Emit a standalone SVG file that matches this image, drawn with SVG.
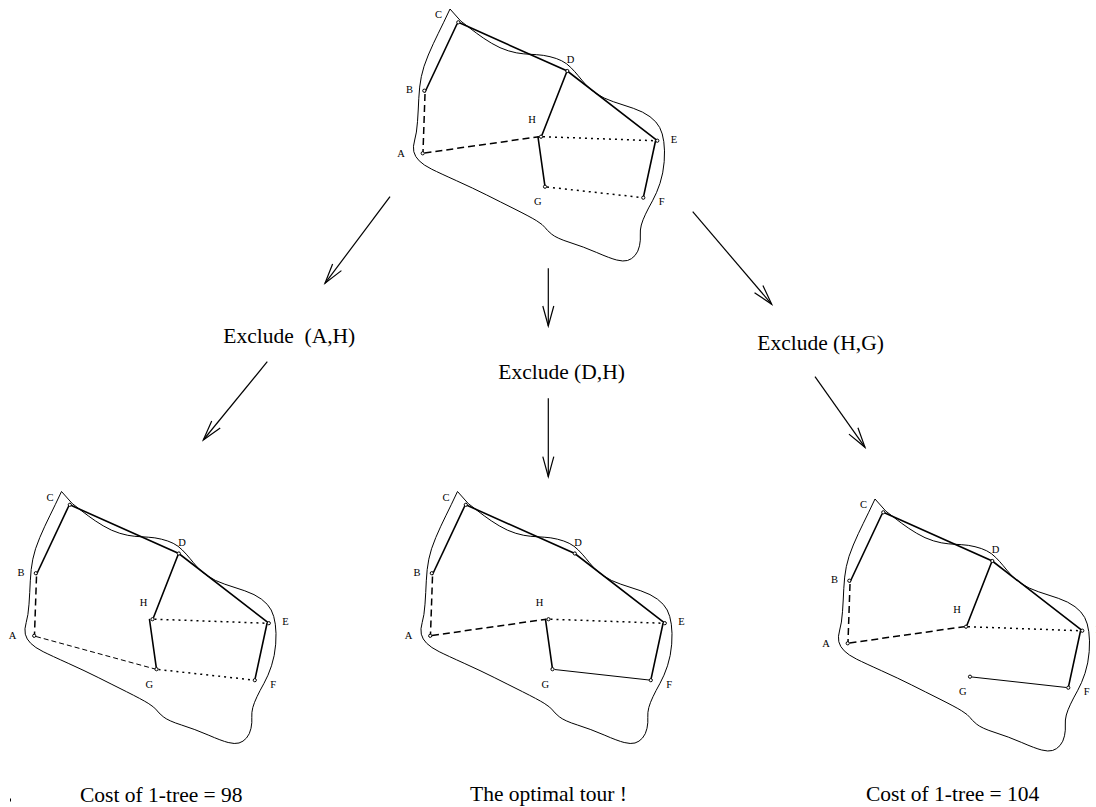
<svg xmlns="http://www.w3.org/2000/svg" xmlns:xlink="http://www.w3.org/1999/xlink" width="1096" height="807" viewBox="0 0 1096 807">
<style>
.bg{fill:#fff}
.outl{fill:none;stroke:#000;stroke-width:1}
.e{fill:none;stroke:#000;stroke-width:1.6;stroke-linecap:round}
.thin{fill:none;stroke:#000;stroke-width:1}
.dash{fill:none;stroke:#000;stroke-width:1.5;stroke-dasharray:7 4}
.dashthin{fill:none;stroke:#000;stroke-width:1;stroke-dasharray:5 3}
.dot{fill:none;stroke:#000;stroke-width:1.5;stroke-dasharray:2 4}
.nd{fill:#fff;stroke:#000;stroke-width:1}
.lbl{font-family:"Liberation Serif","Times New Roman",serif;font-size:10.5px;fill:#000}
.cap{font-family:"Liberation Serif","Times New Roman",serif;font-size:21.5px;fill:#000;white-space:pre}
.arr{fill:none;stroke:#000;stroke-width:1.2;marker-end:url(#ah)}
</style>
<defs>
<marker id="ah" markerUnits="userSpaceOnUse" markerWidth="24" markerHeight="16" viewBox="-22 -8 24 16" refX="0" refY="0" orient="auto">
<path d="M-20,-5.5 L0,0 L-20,5.5" fill="none" stroke="#000" stroke-width="1.2"/>
</marker>
<path id="outline" class="outl" d="M450,9 L460.7,21 Q470,28.3 476.7,33.3 Q483.3,38.3 491.7,43.3 Q500,48.3 508.3,50.8 Q516.7,53.3 523.3,53.8 Q530,54.3 536.7,54.7 Q543.3,55 550,56.7 Q556.7,58.3 561.7,60.8 Q566.7,63.3 570.8,67.5 Q575,71.7 578.3,75.8 Q581.7,80 585.8,84.7 Q590,89.3 596.7,93.8 Q603.3,98.3 613.3,101.7 Q623.3,105 633.3,108.3 Q643.3,111.7 650,116.7 Q656.7,121.7 659.7,127.5 Q662.7,133.3 663.8,141.7 Q665,150 664.2,161.7 Q663.3,173.3 660,183.3 Q656.7,193.3 652.5,200.8 Q648.3,208.3 645.5,214.2 Q642.7,220 641.3,225 Q640,230 640.3,235 Q640.7,240 639.5,245.8 Q638.3,251.7 635,255.5 Q631.7,259.3 627.5,260.5 Q623.3,261.7 616.7,260 Q610,258.3 596.7,252.5 Q583.3,246.7 570,242.5 Q556.7,238.3 551.7,234.2 Q546.7,230 545,227.5 Q543.3,225 536.7,220.8 Q530,216.7 515,209.2 Q500,201.7 486.7,195 Q473.3,188.3 456.7,180.8 Q440,173.3 431.7,169.2 Q423.3,165 419.2,160.8 Q415,156.7 413.8,151.7 Q412.7,146.7 414.7,140 Q416.7,133.3 417.5,121.7 Q418.3,110 418.8,98.3 Q419.3,86.7 421.3,76.7 Q423.3,66.7 428.3,55 Q433.3,43.3 438.3,33.3 Q443.3,23.3 450,9 Z"/>
<g id="common">
<use xlink:href="#outline"/>
<line class="e" x1="457" y1="24" x2="425" y2="92"/>
<line class="dash" x1="425" y1="94" x2="423" y2="152"/>
<polyline class="e" points="458.3,22.3 567.3,71 657.3,140.7"/>
<line class="e" x1="655.5" y1="141" x2="643.3" y2="197.7"/>
<line class="dot" x1="543" y1="136.7" x2="655" y2="140.7"/>
</g>
<g id="labels">
<text class="lbl" x="435" y="18.3">C</text>
<text class="lbl" x="406" y="93.3">B</text>
<text class="lbl" x="566.7" y="63.3">D</text>
<text class="lbl" x="528.3" y="123.3">H</text>
<text class="lbl" x="397.3" y="156.7">A</text>
<text class="lbl" x="670.7" y="142.7">E</text>
<text class="lbl" x="534" y="205">G</text>
<text class="lbl" x="658.7" y="205">F</text>
</g>
<g id="nodes">
<circle class="nd" cx="458.3" cy="22.3" r="1.6"/>
<circle class="nd" cx="567.3" cy="71" r="1.6"/>
<circle class="nd" cx="424.3" cy="90.7" r="1.6"/>
<circle class="nd" cx="541" cy="136.7" r="1.6"/>
<circle class="nd" cx="657.3" cy="140.7" r="1.6"/>
<circle class="nd" cx="422.7" cy="153.3" r="1.6"/>
<circle class="nd" cx="545" cy="186.7" r="1.6"/>
<circle class="nd" cx="643.3" cy="197.7" r="1.6"/>
</g>
</defs>
<rect class="bg" x="0" y="0" width="1096" height="807"/>

<g id="tree-root">
<use xlink:href="#common"/>
<line class="dash" x1="424.5" y1="153" x2="539" y2="136.7"/>
<line class="e" x1="542" y1="135" x2="566.5" y2="72.5"/>
<line class="e" x1="538" y1="137" x2="545" y2="186.7"/>
<line class="dot" x1="547" y1="187" x2="641.5" y2="197.5"/>
<use xlink:href="#nodes"/>
<use xlink:href="#labels"/>
</g>

<g id="tree-exclude-ah" transform="translate(-388.5,482.5)">
<use xlink:href="#common"/>
<line class="dashthin" x1="424.5" y1="154" x2="543.5" y2="186.5"/>
<line class="e" x1="542" y1="135" x2="566.5" y2="72.5"/>
<line class="e" x1="538" y1="137" x2="545" y2="186.7"/>
<line class="dot" x1="547" y1="187" x2="641.5" y2="197.5"/>
<use xlink:href="#nodes"/>
<use xlink:href="#labels"/>
</g>

<g id="tree-exclude-dh" transform="translate(7.5,482.5)">
<use xlink:href="#common"/>
<line class="dash" x1="424.5" y1="153" x2="539" y2="136.7"/>
<line class="e" x1="538" y1="137" x2="545" y2="186.7"/>
<line class="thin" x1="547" y1="187" x2="641.5" y2="197.5"/>
<use xlink:href="#nodes"/>
<use xlink:href="#labels"/>
</g>

<g id="tree-exclude-hg" transform="translate(425,490)">
<use xlink:href="#common"/>
<line class="dash" x1="424.5" y1="153" x2="539" y2="136.7"/>
<line class="e" x1="542" y1="135" x2="566.5" y2="72.5"/>
<line class="thin" x1="547" y1="187" x2="641.5" y2="197.5"/>
<use xlink:href="#nodes"/>
<use xlink:href="#labels"/>
</g>

<g id="label-exclude-ah"><text class="cap" x="223.3" y="343" xml:space="preserve">Exclude  (A,H)</text></g>
<g id="label-exclude-dh"><text class="cap" x="498.3" y="378.5">Exclude (D,H)</text></g>
<g id="label-exclude-hg"><text class="cap" x="757.3" y="349.5">Exclude (H,G)</text></g>
<g id="caption-left"><text class="cap" x="80" y="801.5">Cost of 1-tree = 98</text></g>
<g id="caption-middle"><text class="cap" x="470" y="801">The optimal tour !</text></g>
<g id="caption-right"><text class="cap" x="866" y="801">Cost of 1-tree = 104</text></g>

<g id="connectors">
<line class="arr" x1="390" y1="196.7" x2="325" y2="283.3"/>
<line class="arr" x1="267.3" y1="361.7" x2="203.3" y2="440"/>
<line class="arr" x1="548.3" y1="268.3" x2="548.3" y2="326"/>
<line class="arr" x1="548.3" y1="398.3" x2="548.3" y2="476.7"/>
<line class="arr" x1="692.7" y1="211.7" x2="771.7" y2="304.3"/>
<line class="arr" x1="815" y1="376.7" x2="865" y2="447.3"/>
</g>

<line x1="10.5" y1="798.5" x2="10.5" y2="801.5" stroke="#000" stroke-width="1"/>
</svg>
